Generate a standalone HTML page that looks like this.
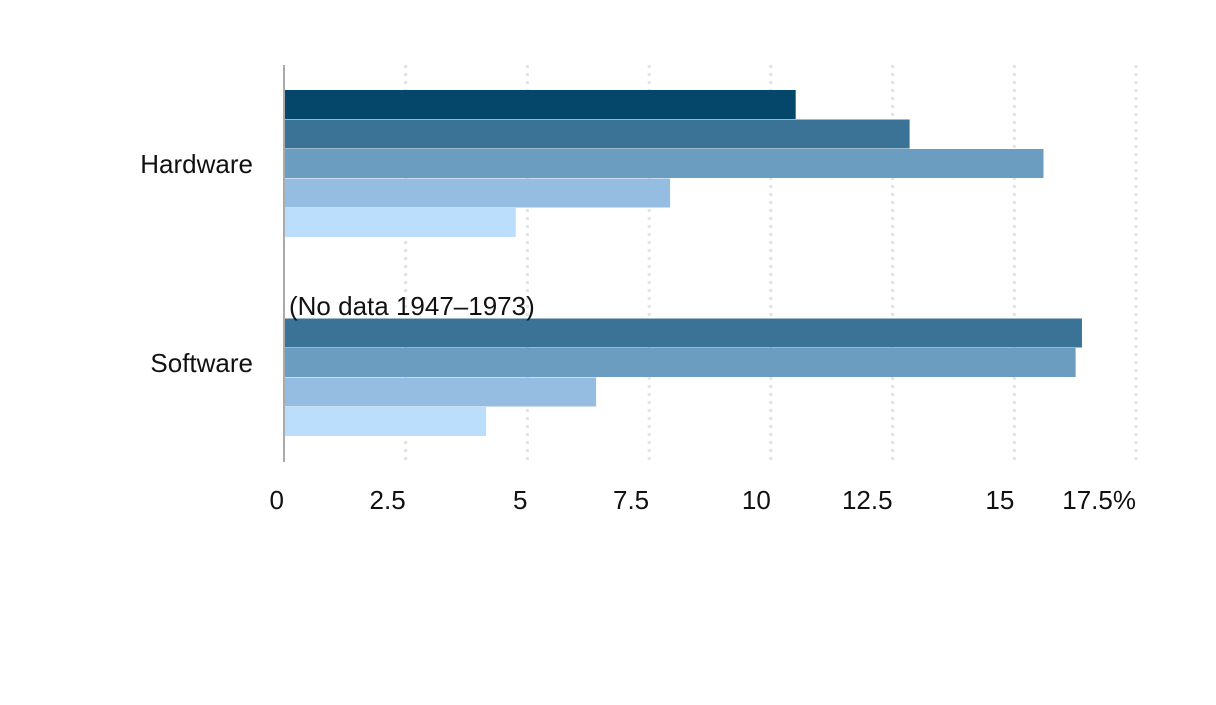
<!DOCTYPE html>
<html><head><meta charset="utf-8"><style>
body{margin:0;background:#fff;width:1216px;height:700px;overflow:hidden}
svg text{font-family:"Liberation Sans",sans-serif;fill:#111}
</style></head><body>
<svg id="chart" width="1216" height="700" xmlns="http://www.w3.org/2000/svg"></svg>
<script>
const categories = ["Hardware", "Software"];
const seriesNames = ["s1", "s2", "s3", "s4", "s5"];
const hardwareValues = [10.51, 12.85, 15.6, 7.93, 4.76];
const softwareValues = [null, 16.39, 16.26, 6.41, 4.15];
const tickValues = [0, 2.5, 5, 7.5, 10, 12.5, 15, 17.5];
const tickLabels = ["0", "2.5", "5", "7.5", "10", "12.5", "15", "17.5%"];
const colors = ["#04476a", "#3b7397", "#6b9dc0", "#95bde2", "#bbdefd"];

const svg = document.getElementById('chart');
const NS = "http://www.w3.org/2000/svg";
const x0 = 284, x1 = 1136, xMax = 17.5;
const yTop = 65, yBot = 462;
const xs = v => x0 + (v / xMax) * (x1 - x0);
const bandStarts = [90, 289];
const barH = 29.5;
function mk(tag, attrs){const e=document.createElementNS(NS,tag);for(const k in attrs)e.setAttribute(k,attrs[k]);svg.appendChild(e);return e;}

tickValues.forEach((t,i)=>{
  if(i>0){
    const g=mk('line',{x1:xs(t),x2:xs(t),y1:yTop,y2:yBot,stroke:'#e3e3e3','stroke-width':3,'stroke-dasharray':'3,5'});
    
    
  }
  const tx=mk('text',{x:xs(t),y:509,'text-anchor':'end','font-size':26});
  tx.textContent=tickLabels[i];
  
  
});

[hardwareValues, softwareValues].forEach((vals,ci)=>{
  vals.forEach((v,si)=>{
    if(v===null) return;
    const y=bandStarts[ci]+si*barH;
    const r=mk('rect',{x:x0,y:y,width:xs(v)-x0,height:barH-0.5,fill:colors[si]});
    
    
  });
  const cy=bandStarts[ci]+2.5*barH;
  const lab=mk('text',{x:253,y:cy+9,'text-anchor':'end','font-size':26});
  lab.textContent=categories[ci];
  
  
});

const note=mk('text',{x:289,y:315,'font-size':26});
note.textContent="(No data 1947\u20131973)";



const ax=mk('line',{x1:x0,x2:x0,y1:yTop,y2:yBot,stroke:'#aaaaaa','stroke-width':2});


</script>
</body></html>
